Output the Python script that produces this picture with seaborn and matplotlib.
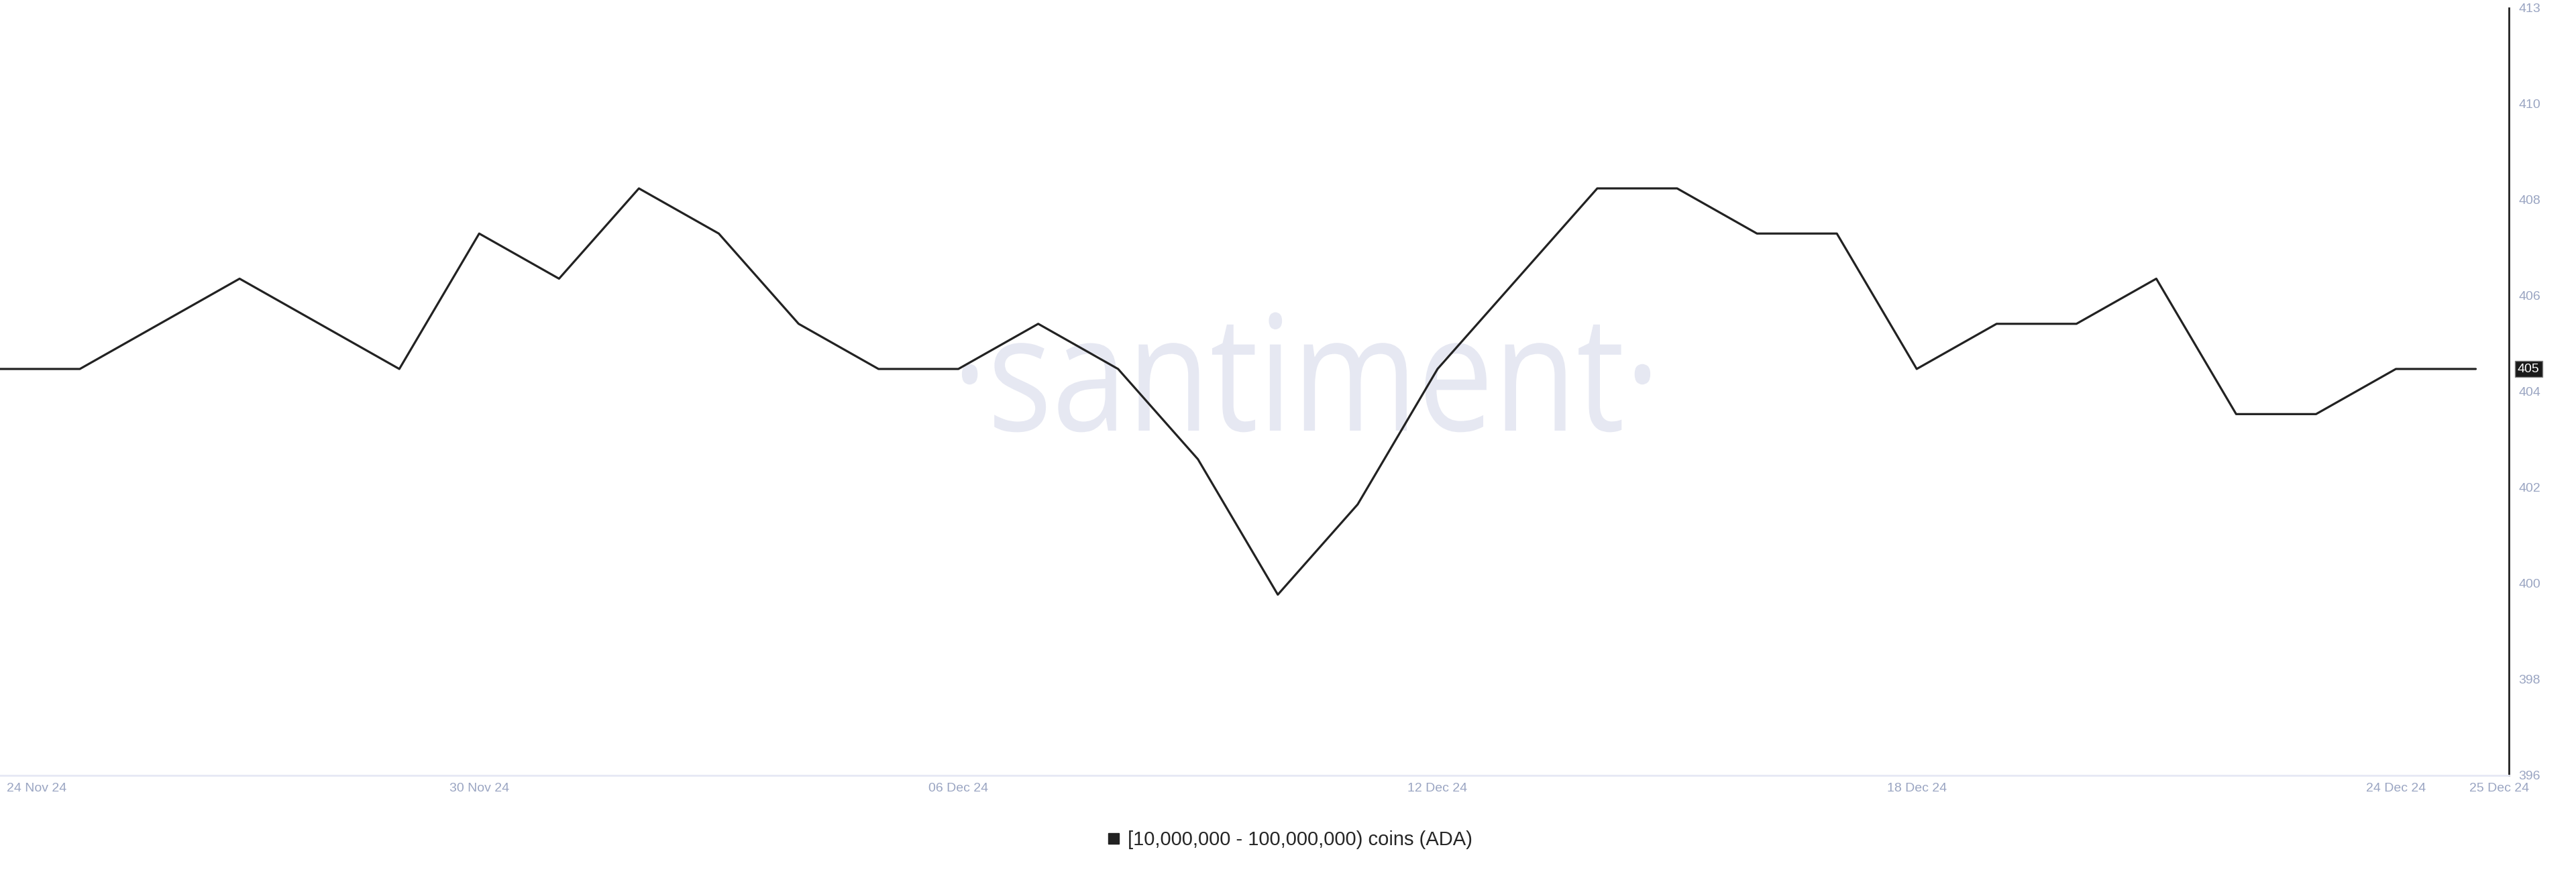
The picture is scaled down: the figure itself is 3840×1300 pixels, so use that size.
import numpy as np
import pandas as pd
import seaborn as sns
import matplotlib.pyplot as plt
import matplotlib.transforms as mtransforms
from matplotlib.lines import Line2D
from matplotlib.textpath import TextPath
from matplotlib.patches import PathPatch
from matplotlib.font_manager import FontProperties

# daily holder counts, 24 Nov 24 .. 25 Dec 24
dates = pd.date_range("2024-11-24", "2024-12-25", freq="D")
holders = [405, 405, 406, 407, 406, 405, 408, 407, 409, 408, 406, 405,
           405, 406, 405, 403, 400, 402, 405, 407, 409, 409, 408, 408,
           405, 406, 406, 407, 404, 404, 405, 405]
series_name = "[10,000,000 - 100,000,000) coins (ADA)"

x_tick_dates = ["2024-11-24 02:00", "2024-11-30 00:00", "2024-12-06 00:00",
                "2024-12-12 00:00", "2024-12-18 00:00", "2024-12-24 00:00",
                "2024-12-25 07:00"]
x_tick_labels = ["24 Nov 24", "30 Nov 24", "06 Dec 24", "12 Dec 24",
                 "18 Dec 24", "24 Dec 24", "25 Dec 24"]
y_tick_labels = ["396", "398", "400", "402", "404", "406", "408", "410", "413"]
y_min, y_max = 396, 413

df = pd.DataFrame({"date": dates, "holders": holders})

sns.set_style("white")
plt.rcParams["font.family"] = ["Liberation Sans", "DejaVu Sans"]

tick_color = "#9aa5c2"
line_color = "#222222"

fig = plt.figure(figsize=(38.4, 13), dpi=100)
ax = fig.add_axes([0, 0.111, 0.974, 0.880])

# watermark: condensed "·santiment·" drawn as a path in pixel units
wm = TextPath((0, 0), "\u00b7santiment\u00b7", size=240,
              prop=FontProperties(family="Open Sans"))
ext = wm.get_extents()
wm_tr = (mtransforms.Affine2D()
         .translate(-(ext.x0 + ext.x1) / 2, 0)
         .scale(0.84, 1.0)
         .translate(1947, 658))
ax.add_patch(PathPatch(wm, transform=wm_tr, fc="#e6e8f2", ec="none",
                       zorder=0, clip_on=False))

sns.lineplot(data=df, x="date", y="holders", color=line_color,
             linewidth=2.3, ax=ax, legend=False, zorder=3)

ax.set_xlim(dates[0], dates[-1] + pd.Timedelta(hours=10))
ax.set_ylim(y_min, y_max)
ax.set_xlabel("")
ax.set_ylabel("")

ax.yaxis.tick_right()
ax.set_yticks(np.linspace(y_min, y_max, len(y_tick_labels)))
ax.set_yticklabels(y_tick_labels)
ax.set_xticks(pd.to_datetime(x_tick_dates, format="%Y-%m-%d %H:%M"))
ax.set_xticklabels(x_tick_labels)
ax.tick_params(axis="both", length=0, labelsize=14, colors=tick_color)
ax.tick_params(axis="y", pad=10)
ax.tick_params(axis="x", pad=8)
ax.get_xticklabels()[0].set_horizontalalignment("left")

for side in ["top", "left"]:
    ax.spines[side].set_visible(False)
ax.spines["right"].set_color(line_color)
ax.spines["right"].set_linewidth(2)
ax.spines["bottom"].set_color("#e6e8f4")
ax.spines["bottom"].set_linewidth(2)
ax.grid(False)

# current value badge
trans = mtransforms.blended_transform_factory(ax.transAxes, ax.transData)
ax.text(1.0078, holders[-1], str(holders[-1]), transform=trans,
        ha="center", va="center", fontsize=14, color="white",
        bbox=dict(boxstyle="square,pad=0.2", fc="#1a1a1a", ec="#888888", lw=1),
        clip_on=False, zorder=5)

handle = Line2D([], [], marker="s", linestyle="none", color=line_color,
                markersize=12)
fig.legend([handle], [series_name], loc="center", bbox_to_anchor=(0.5, 0.037),
           frameon=False, fontsize=21, handletextpad=0.2, handlelength=1)

fig.savefig("out.png", dpi=100)
